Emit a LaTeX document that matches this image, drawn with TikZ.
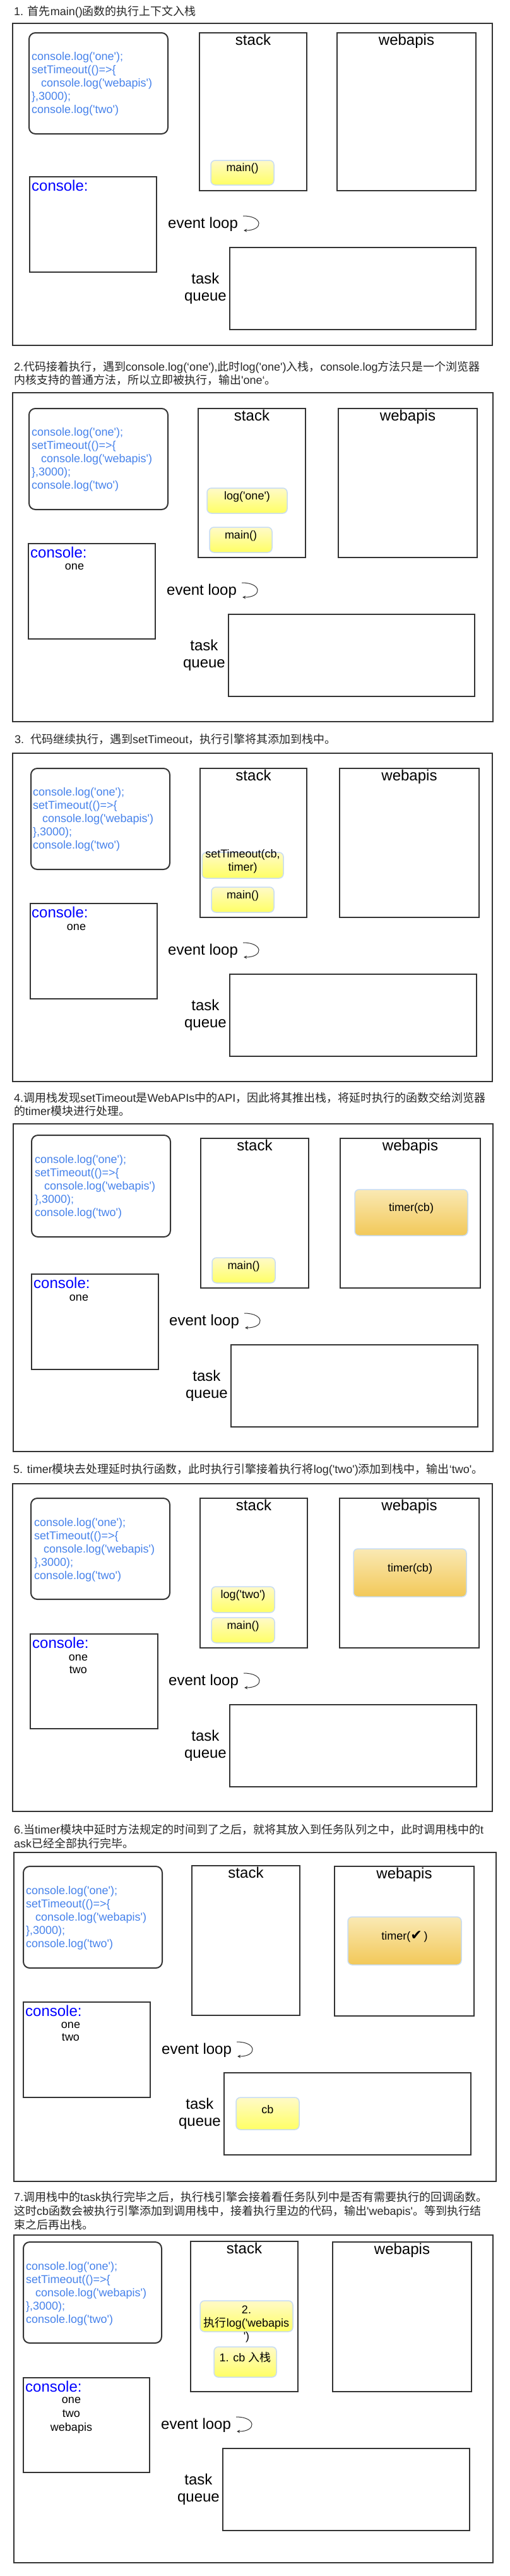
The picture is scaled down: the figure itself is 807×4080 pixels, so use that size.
\documentclass[tikz,border=0pt]{standalone}
\usepackage{fontspec}
\setmainfont{Liberation Sans}
\newfontfamily\arial{Liberation Sans}
\newfontfamily\cjk{Noto Sans CJK SC}
\newfontfamily\dejavu{DejaVu Sans}
\usetikzlibrary{positioning,arrows.meta,fit}
\definecolor{edgegray}{HTML}{333333}
\definecolor{codeblue}{RGB}{70,130,235}
\definecolor{consoleblue}{HTML}{0000FF}
\definecolor{frameblue}{RGB}{200,220,242}
\definecolor{ytop}{RGB}{255,250,200}
\definecolor{ybot}{RGB}{255,255,100}
\definecolor{otop}{RGB}{250,233,180}
\definecolor{obot}{RGB}{242,200,88}
\newcommand{\zh}[1]{{\cjk #1}}
\newcommand{\jscode}{console.log('one');\\setTimeout(()=>\{\\\hspace*{15pt}console.log('webapis')\\\},3000);\\console.log('two')}

\begin{document}
\begin{tikzpicture}[x=1pt, y=-1pt,
  every node/.style={font=\arial\fontsize{18}{21}\selectfont, inner sep=0pt},
  title/.style={anchor=west, align=left, text=black!85},
  area/.style={draw=edgegray, line width=2pt},
  codebox/.style={area, rounded corners=10pt},
  prog/.style={anchor=west, align=left, text=codeblue},
  head/.style={font=\arial\fontsize{24}{27}\selectfont, text height=17pt, text depth=5pt},
  call/.style={draw=frameblue, line width=1.5pt, rounded corners=7pt, top color=ytop, bottom color=ybot, align=center},
  timerbox/.style={call, top color=otop, bottom color=obot},
  conhead/.style={anchor=west, text=consoleblue, font=\arial\fontsize{24}{27}\selectfont},
  output/.style={align=center, font=\arial\fontsize{18}{20}\selectfont},
  evlabel/.style={anchor=west, font=\arial\fontsize{24}{27}\selectfont},
  qlabel/.style={align=center, font=\arial\fontsize{24}{27}\selectfont},
  looparrow/.style={draw=edgegray, line width=1pt, -{Stealth[length=5pt,width=5pt]}}
]
\path[use as bounding box, fill=white] (0,0) rectangle (807,4080);

% Step 1
\node[title] (title1) at (22,19) {1. \zh{首先}main()\zh{函数的执行上下文入栈}};
\node[area, fit={(20,37) (780,547)}] (outer1) {};
\node[codebox, fit={(46,52) (266,212)}] (code1) {};
\node[prog] (prog1) at (50,133) {\jscode};
\node[area, fit={(316,52) (486,302)}] (stack1) {};
\node[head, below=3pt of stack1.north] (stackhd1) {stack};
\node[area, fit={(534,52) (754,302)}] (web1) {};
\node[head, below=3pt of web1.north] (webhd1) {webapis};
\node[call, fit={(334,254) (434,293)}] (main1) {main()};
\node[area, fit={(47,280) (248,431)}] (con1) {};
\node[conhead] (conhd1) at (50,294) {console:};
\node[evlabel] (ev1) at (266,355) {event loop};
\draw[looparrow] ([xshift=8pt,yshift=13pt]ev1.east) .. controls +(32,0) and +(32,0) .. ([xshift=9pt,yshift=-10pt]ev1.east);
\node[area, fit={(364,392) (754,522)}] (queue1) {};
\node[qlabel, left=4pt of queue1] (tq1) {task\\queue};

% Step 2
\node[title] (title2) at (22,591) {2.\zh{代码接着执行，遇到}console.log(‘one'),\zh{此时}log('one')\zh{入栈，}console.log\zh{方法只是一个浏览器}\\\zh{内核支持的普通方法，所以立即被执行，输出}'one‘\zh{。}};
\node[area, fit={(20,622) (781,1143)}] (outer2) {};
\node[codebox, fit={(46,647) (266,807)}] (code2) {};
\node[prog] (prog2) at (50,728) {\jscode};
\node[area, fit={(314,647) (484,883)}] (stack2) {};
\node[head, below=3pt of stack2.north] (stackhd2) {stack};
\node[area, fit={(536,647) (756,883)}] (web2) {};
\node[head, below=3pt of web2.north] (webhd2) {webapis};
\node[call, fit={(328,773) (455,813)}] (log2) {log('one')};
\node[call, fit={(332,835) (431,875)}] (main2) {main()};
\node[area, fit={(45,861) (246,1012)}] (con2) {};
\node[conhead] (conhd2) at (48,875) {console:};
\node[output] (out2) at (118,898) {one};
\node[evlabel] (ev2) at (264,936) {event loop};
\draw[looparrow] ([xshift=8pt,yshift=13pt]ev2.east) .. controls +(32,0) and +(32,0) .. ([xshift=9pt,yshift=-10pt]ev2.east);
\node[area, fit={(362,973) (752,1103)}] (queue2) {};
\node[qlabel, left=4pt of queue2] (tq2) {task\\queue};

% Step 3
\node[title] (title3) at (23,1171) {3.\ \ \zh{代码继续执行，遇到}setTimeout\zh{，执行引擎将其添加到栈中。}};
\node[area, fit={(20,1193) (780,1713)}] (outer3) {};
\node[codebox, fit={(49,1217) (269,1377)}] (code3) {};
\node[prog] (prog3) at (52,1298) {\jscode};
\node[area, fit={(317,1217) (486,1453)}] (stack3) {};
\node[head, below=3pt of stack3.north] (stackhd3) {stack};
\node[area, fit={(538,1217) (759,1453)}] (web3) {};
\node[head, below=3pt of web3.north] (webhd3) {webapis};
\node[call, fit={(320,1350) (449,1391)}] (set3) {setTimeout(cb,\\timer)};
\node[call, fit={(335,1405) (434,1445)}] (main3) {main()};
\node[area, fit={(48,1431) (249,1582)}] (con3) {};
\node[conhead] (conhd3) at (50,1445) {console:};
\node[output] (out3) at (121,1469) {one};
\node[evlabel] (ev3) at (266,1506) {event loop};
\draw[looparrow] ([xshift=8pt,yshift=13pt]ev3.east) .. controls +(32,0) and +(32,0) .. ([xshift=9pt,yshift=-10pt]ev3.east);
\node[area, fit={(364,1543) (755,1673)}] (queue3) {};
\node[qlabel, left=4pt of queue3] (tq3) {task\\queue};

% Step 4
\node[title] (title4) at (22,1749) {4.\zh{调用栈发现}setTimeout\zh{是}WebAPIs\zh{中的}API\zh{，因此将其推出栈，将延时执行的函数交给浏览器}\\\zh{的}timer\zh{模块进行处理。}};
\node[area, fit={(21,1780) (781,2299)}] (outer4) {};
\node[codebox, fit={(50,1798) (270,1959)}] (code4) {};
\node[prog] (prog4) at (55,1880) {\jscode};
\node[area, fit={(318,1803) (489,2040)}] (stack4) {};
\node[head, below=3pt of stack4.north] (stackhd4) {stack};
\node[area, fit={(539,1803) (761,2040)}] (web4) {};
\node[head, below=3pt of web4.north] (webhd4) {webapis};
\node[timerbox, fit={(562,1884) (741,1957)}] (timer4) {timer(cb)};
\node[call, fit={(336,1992) (436,2032)}] (main4) {main()};
\node[area, fit={(50,2018) (251,2169)}] (con4) {};
\node[conhead] (conhd4) at (53,2032) {console:};
\node[output] (out4) at (125,2056) {one};
\node[evlabel] (ev4) at (268,2093) {event loop};
\draw[looparrow] ([xshift=8pt,yshift=13pt]ev4.east) .. controls +(32,0) and +(32,0) .. ([xshift=9pt,yshift=-10pt]ev4.east);
\node[area, fit={(366,2130) (757,2260)}] (queue4) {};
\node[qlabel, left=4pt of queue4] (tq4) {task\\queue};

% Step 5
\node[title] (title5) at (21,2328) {5. timer\zh{模块去处理延时执行函数，此时执行引擎接着执行将}log('two')\zh{添加到栈中，输出}‘two'\zh{。}};
\node[area, fit={(20,2350) (780,2869)}] (outer5) {};
\node[codebox, fit={(49,2373) (269,2533)}] (code5) {};
\node[prog] (prog5) at (54,2455) {\jscode};
\node[area, fit={(317,2373) (487,2610)}] (stack5) {};
\node[head, below=3pt of stack5.north] (stackhd5) {stack};
\node[area, fit={(538,2373) (759,2610)}] (web5) {};
\node[head, below=3pt of web5.north] (webhd5) {webapis};
\node[timerbox, fit={(560,2453) (739,2529)}] (timer5) {timer(cb)};
\node[call, fit={(335,2513) (435,2554)}] (log5) {log('two')};
\node[call, fit={(335,2562) (435,2602)}] (main5) {main()};
\node[area, fit={(48,2588) (250,2738)}] (con5) {};
\node[conhead] (conhd5) at (51,2602) {console:};
\node[output] (out5) at (124,2636) {one\\two};
\node[evlabel] (ev5) at (267,2663) {event loop};
\draw[looparrow] ([xshift=8pt,yshift=13pt]ev5.east) .. controls +(32,0) and +(32,0) .. ([xshift=9pt,yshift=-10pt]ev5.east);
\node[area, fit={(364,2700) (755,2830)}] (queue5) {};
\node[qlabel, left=4pt of queue5] (tq5) {task\\queue};

% Step 6
\node[title, font=\arial\fontsize{18}{22}\selectfont] (title6) at (22,2909) {6.\zh{当}timer\zh{模块中延时方法规定的时间到了之后，就将其放入到任务队列之中，此时调用栈中的}t\\ask\zh{已经全部执行完毕。}};
\node[area, fit={(22,2934) (786,3455)}] (outer6) {};
\node[codebox, fit={(37,2956) (257,3117)}] (code6) {};
\node[prog] (prog6) at (41,3038) {\jscode};
\node[area, fit={(304,2955) (475,3192)}] (stack6) {};
\node[head, below=3pt of stack6.north] (stackhd6) {stack};
\node[area, fit={(530,2956) (751,3193)}] (web6) {};
\node[head, below=3pt of web6.north] (webhd6) {webapis};
\node[timerbox, fit={(551,3036) (731,3112)}] (timer6) {timer({\dejavu\fontsize{22}{22}\selectfont ✔}\,)};
\node[area, fit={(37,3171) (238,3322)}] (con6) {};
\node[conhead] (conhd6) at (40,3185) {console:};
\node[output] (out6) at (112,3218) {one\\two};
\node[evlabel] (ev6) at (256,3247) {event loop};
\draw[looparrow] ([xshift=8pt,yshift=13pt]ev6.east) .. controls +(32,0) and +(32,0) .. ([xshift=9pt,yshift=-10pt]ev6.east);
\node[area, fit={(355,3283) (746,3413)}] (queue6) {};
\node[qlabel, left=4pt of queue6] (tq6) {task\\queue};
\node[call, fit={(374,3322) (474,3373)}] (cb6) {cb};

% Step 7
\node[title, font=\arial\fontsize{18}{22}\selectfont] (title7) at (22,3502) {7.\zh{调用栈中的}task\zh{执行完毕之后，执行栈引擎会接着看任务队列中是否有需要执行的回调函数。}\\\zh{这时}cb\zh{函数会被执行引擎添加到调用栈中，接着执行里边的代码，输出}'webapis'\zh{。等到执行结}\\\zh{束之后再出栈。}};
\node[area, fit={(22,3540) (781,4059)}] (outer7) {};
\node[codebox, fit={(37,3551) (256,3711)}] (code7) {};
\node[prog] (prog7) at (41,3633) {\jscode};
\node[area, fit={(302,3550) (472,3788)}] (stack7) {};
\node[head, below=3pt of stack7.north] (stackhd7) {stack};
\node[area, fit={(527,3551) (747,3788)}] (web7) {};
\node[head, below=3pt of web7.north] (webhd7) {webapis};
\node[call, fit={(317,3644) (464,3693)}] (run7) {\smash{\raisebox{-17pt}{\begin{tabular}{@{}c@{}}2.\\\zh{执行}log('webapis\\')\end{tabular}}}};
\node[call, fit={(339,3717) (438,3765)}] (push7) {1. cb \zh{入栈}};
\node[area, fit={(37,3766) (237,3916)}] (con7) {};
\node[conhead] (conhd7) at (40,3780) {console:};
\node[output, font=\arial\fontsize{18}{22}\selectfont] (out7) at (113,3825) {one\\two\\webapis};
\node[evlabel] (ev7) at (255,3841) {event loop};
\draw[looparrow] ([xshift=8pt,yshift=13pt]ev7.east) .. controls +(32,0) and +(32,0) .. ([xshift=9pt,yshift=-10pt]ev7.east);
\node[area, fit={(353,3878) (744,4008)}] (queue7) {};
\node[qlabel, left=4pt of queue7] (tq7) {task\\queue};
\end{tikzpicture}
\end{document}
